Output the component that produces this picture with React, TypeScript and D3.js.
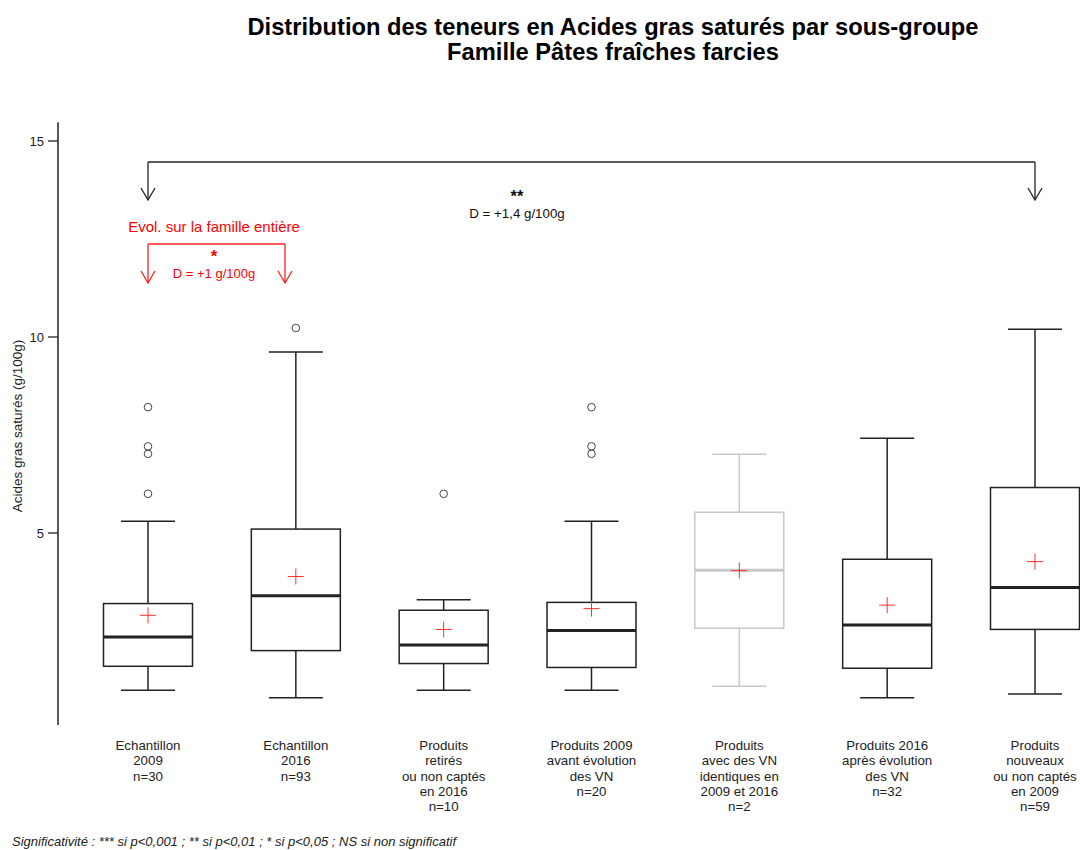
import React from "react";
import * as d3 from "d3";

const categories = [
  ["Echantillon", "2009", "n=30"],
  ["Echantillon", "2016", "n=93"],
  ["Produits", "retirés", "ou non captés", "en 2016", "n=10"],
  ["Produits 2009", "avant évolution", "des VN", "n=20"],
  ["Produits", "avec des VN", "identiques en", "2009 et 2016", "n=2"],
  ["Produits 2016", "après évolution", "des VN", "n=32"],
  ["Produits", "nouveaux", "ou non captés", "en 2009", "n=59"],
];
const lowerWhisker = [0.99, 0.8, 0.99, 0.99, 1.09, 0.8, 0.89];
const q1 = [1.6, 2.0, 1.67, 1.57, 2.57, 1.55, 2.54];
const median = [2.35, 3.4, 2.14, 2.51, 4.05, 2.65, 3.61];
const q3 = [3.2, 5.1, 3.03, 3.23, 5.53, 4.33, 6.16];
const upperWhisker = [5.3, 9.62, 3.3, 5.3, 7.01, 7.42, 10.2];
const means = [2.9, 3.89, 2.54, 3.07, 4.04, 3.16, 4.27];
const outliers = [
  [8.21, 7.21, 7.02, 6.0],
  [10.23],
  [6.0],
  [8.21, 7.21, 7.02],
  [],
  [],
  [],
];
const greyed = [false, false, false, false, true, false, false];
const yTicks = [5, 10, 15];

const W = 1080;
const H = 850;
const FONT = "Liberation Sans, Arial, sans-serif";

export default function App() {
  const y = d3.scaleLinear().domain([0, 15]).range([729, 141]);
  const x = d3
    .scalePoint<number>()
    .domain(categories.map((_, i) => i))
    .range([148, 1035]);
  const boxW = 89;
  const capW = 54;
  const axisX = 58;

  const arrow = (xx: number, y0: number, y1: number, color: string, key: string) => (
    <g key={key} stroke={color} strokeWidth={1.3} fill="none">
      <line x1={xx} x2={xx} y1={y0} y2={y1} />
      <polyline points={`${xx - 7},${y1 - 12} ${xx},${y1} ${xx + 7},${y1 - 12}`} />
    </g>
  );

  return (
    <svg
      width={W}
      height={H}
      style={{ position: "absolute", left: 0, top: 0, background: "#fff" }}
      fontFamily={FONT}
    >
      <rect width={W} height={H} fill="#fff" />
      {/* Title */}
      <text x={613} y={35} textAnchor="middle" fontSize={23.7} fontWeight="bold">
        Distribution des teneurs en Acides gras saturés par sous-groupe
      </text>
      <text x={613} y={60} textAnchor="middle" fontSize={23.7} fontWeight="bold">
        Famille Pâtes fraîches farcies
      </text>

      {/* Y axis */}
      <line x1={axisX} x2={axisX} y1={y(15.48)} y2={y(0.1)} stroke="#222" strokeWidth={1.5} />
      {yTicks.map((t) => (
        <g key={t}>
          <line x1={axisX - 10} x2={axisX} y1={y(t)} y2={y(t)} stroke="#222" strokeWidth={1.3} />
          <text x={44} y={y(t) + 4.5} textAnchor="end" fontSize={13} fill="#222">
            {t}
          </text>
        </g>
      ))}
      <text
        transform={`translate(22,${426}) rotate(-90)`}
        textAnchor="middle"
        fontSize={13.5}
        fill="#222"
      >
        Acides gras saturés (g/100g)
      </text>

      {/* Boxes */}
      {categories.map((_, i) => {
        const cx = x(i)!;
        const col = greyed[i] ? "#c8c8c8" : "#222";
        return (
          <g key={i}>
            <line x1={cx} x2={cx} y1={y(upperWhisker[i])} y2={y(q3[i])} stroke={col} strokeWidth={1.5} />
            <line x1={cx} x2={cx} y1={y(q1[i])} y2={y(lowerWhisker[i])} stroke={col} strokeWidth={1.5} />
            <line x1={cx - capW / 2} x2={cx + capW / 2} y1={y(upperWhisker[i])} y2={y(upperWhisker[i])} stroke={col} strokeWidth={1.5} />
            <line x1={cx - capW / 2} x2={cx + capW / 2} y1={y(lowerWhisker[i])} y2={y(lowerWhisker[i])} stroke={col} strokeWidth={1.5} />
            <rect
              x={cx - boxW / 2}
              y={y(q3[i])}
              width={boxW}
              height={y(q1[i]) - y(q3[i])}
              fill="#fff"
              stroke={col}
              strokeWidth={1.5}
            />
            <line
              x1={cx - boxW / 2}
              x2={cx + boxW / 2}
              y1={y(median[i])}
              y2={y(median[i])}
              stroke={col}
              strokeWidth={3}
            />
            {outliers[i].map((o, j) => (
              <circle key={j} cx={cx} cy={y(o)} r={3.8} fill="none" stroke="#444" strokeWidth={1} />
            ))}
            <g stroke="#ff3030" strokeWidth={1}>
              <line x1={cx - 8} x2={cx + 8} y1={y(means[i])} y2={y(means[i])} />
              <line x1={cx} x2={cx} y1={y(means[i]) - 8} y2={y(means[i]) + 8} />
            </g>
            {categories[i].map((line, k) => (
              <text
                key={k}
                x={cx}
                y={750 + k * 15.3}
                textAnchor="middle"
                fontSize={13.3}
                fill="#222"
              >
                {line}
              </text>
            ))}
          </g>
        );
      })}

      {/* Black bracket */}
      <line x1={x(0)!} x2={x(6)!} y1={162} y2={162} stroke="#222" strokeWidth={1.3} />
      {arrow(x(0)!, 162, 200, "#222", "b1")}
      {arrow(x(6)!, 162, 200, "#222", "b2")}
      <text x={517} y={202} textAnchor="middle" fontSize={16.5} fontWeight="bold" fill="#111">
        **
      </text>
      <text x={517} y={218} textAnchor="middle" fontSize={13.3} fill="#111">
        D = +1,4 g/100g
      </text>

      {/* Red bracket */}
      <text x={214} y={232} textAnchor="middle" fontSize={15} fill="#ff0000">
        Evol. sur la famille entière
      </text>
      <line x1={x(0)!} x2={285} y1={244} y2={244} stroke="#ff2020" strokeWidth={1.3} />
      {arrow(x(0)!, 244, 283, "#ff2020", "r1")}
      {arrow(285, 244, 283, "#ff2020", "r2")}
      <text x={214} y={262} textAnchor="middle" fontSize={17} fontWeight="bold" fill="#ff0000">
        *
      </text>
      <text x={214} y={278} textAnchor="middle" fontSize={13} fill="#ff0000">
        D = +1 g/100g
      </text>

      {/* Footer */}
      <text x={12} y={846} fontSize={13} fontStyle="italic" fill="#222">
        Significativité : *** si p&lt;0,001 ; ** si p&lt;0,01 ; * si p&lt;0,05 ; NS si non significatif
      </text>
    </svg>
  );
}
